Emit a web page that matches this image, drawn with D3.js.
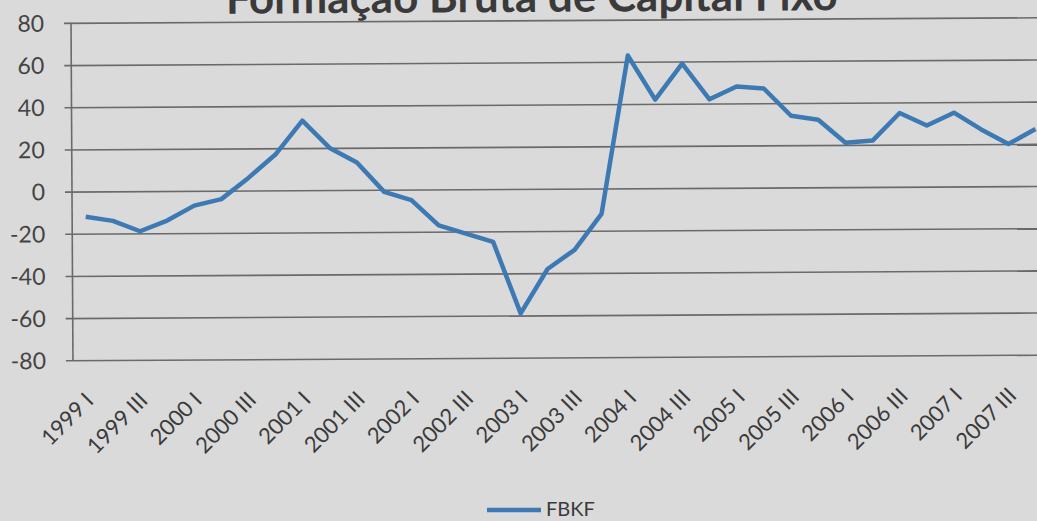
<!DOCTYPE html>
<html>
<head>
<meta charset="utf-8">
<script src="https://cdn.jsdelivr.net/npm/d3@7"></script>
<style>
  html, body { margin: 0; padding: 0; background: #dadada; overflow: hidden; }
  svg { display: block; font-family: Lato, "Open Sans", sans-serif; }
</style>
</head>
<body>
<svg id="chart" width="1037" height="521"></svg>
<script>
// Quarters 1999 I .. 2007 IV
const years = ['1999', '2000', '2001', '2002', '2003', '2004', '2005', '2006', '2007'];
const quarters = ['I', 'II', 'III', 'IV'];
const categories = years.flatMap(y => quarters.map(q => `${y} ${q}`));

// FBKF values
const fbkf = [
    -12, -14, -19, -14,
    -7, -4, 6, 17,
    33, 20, 13, -1,
    -5, -17, -21, -25,
    -59, -38, -29, -12,
    63, 42, 59, 42,
    48, 47, 34, 32,
    21, 22, 35, 29,
    35, 27, 20, 27
];

const yTicks = [-80, -60, -40, -20, 0, 20, 40, 60, 80];
const titleText = 'Formação Bruta de Capital Fixo';
const seriesName = 'FBKF';

const fontFamily = 'Lato, "Open Sans", sans-serif';
const textColor = '#3a3a3a';
const lineColor = '#3d7ab3';

const svg = d3.select('#chart');

svg.append('rect')
    .attr('width', 1037)
    .attr('height', 521)
    .attr('fill', '#dadada');

// The photo is a touch tilted, so the whole drawing is turned a little.
const root = svg.append('g')
    .attr('transform', 'rotate(-0.33, 518, 192)');

const plotLeft = 72;
const x = d3.scalePoint()
    .domain(categories)
    .range([plotLeft, plotLeft + 36 * 27.15])
    .padding(0.5);

const y = d3.scaleLinear()
    .domain([-80, 80])
    .range([357.7, 20.3]);

// Grid lines and y labels (plain hyphen for negatives, like the original)
const yAxis = d3.axisLeft(y)
    .tickValues(yTicks)
    .tickSize(-(1100 - plotLeft))
    .tickPadding(27)
    .tickFormat(d => String(d));

const yAxisG = root.append('g')
    .attr('transform', `translate(${plotLeft},0)`)
    .call(yAxis)
    .attr('font-family', fontFamily); // axis sets its own family, so override after

yAxisG.select('.domain').remove();
yAxisG.selectAll('.tick line')
    .attr('x1', -7)
    .attr('stroke', '#6a6a6a')
    .attr('stroke-width', 1.6);
yAxisG.selectAll('.tick text')
    .attr('fill', '#444')
    .attr('font-size', 23)
    .attr('dy', '0.35em');

// Vertical axis line
root.append('line')
    .attr('x1', plotLeft).attr('x2', plotLeft)
    .attr('y1', y(80)).attr('y2', y(-80))
    .attr('stroke', '#6a6a6a')
    .attr('stroke-width', 1.6);

// X labels, every other quarter, turned 45 degrees
const xAxisG = root.append('g')
    .attr('class', 'x-labels')
    .attr('font-family', fontFamily);

xAxisG.selectAll('text')
    .data(categories.filter((d, i) => i % 2 === 0))
    .join('text')
    .attr('transform', d => `translate(${x(d) + 8},${y(-80) + 42}) rotate(-45)`)
    .attr('text-anchor', 'end')
    .attr('fill', textColor)
    .attr('font-size', 22)
    .text(d => d);

// The series line
const line = d3.line()
    .x((d, i) => x(categories[i]))
    .y(d => y(d));

root.append('path')
    .datum(fbkf)
    .attr('d', line)
    .attr('fill', 'none')
    .attr('stroke', lineColor)
    .attr('stroke-width', 4.5)
    .attr('stroke-linejoin', 'round');

// Title, sized to the width it takes in the picture (cut at the top, as in the photo)
const title = root.append('text')
    .attr('x', 533)
    .attr('y', 12)
    .attr('text-anchor', 'middle')
    .attr('font-weight', 'bold')
    .attr('font-size', 40)
    .attr('fill', textColor)
    .text(titleText);
const titleLen = title.node().getComputedTextLength();
title.attr('font-size', 40 * 612 / titleLen);

// Legend
const legend = svg.append('g')
    .attr('font-family', fontFamily);
legend.append('line')
    .attr('x1', 487).attr('x2', 541)
    .attr('y1', 510).attr('y2', 510)
    .attr('stroke', lineColor)
    .attr('stroke-width', 4.5);
legend.append('text')
    .attr('x', 546)
    .attr('y', 516)
    .attr('fill', textColor)
    .attr('font-size', 20)
    .text(seriesName);
</script>
</body>
</html>
